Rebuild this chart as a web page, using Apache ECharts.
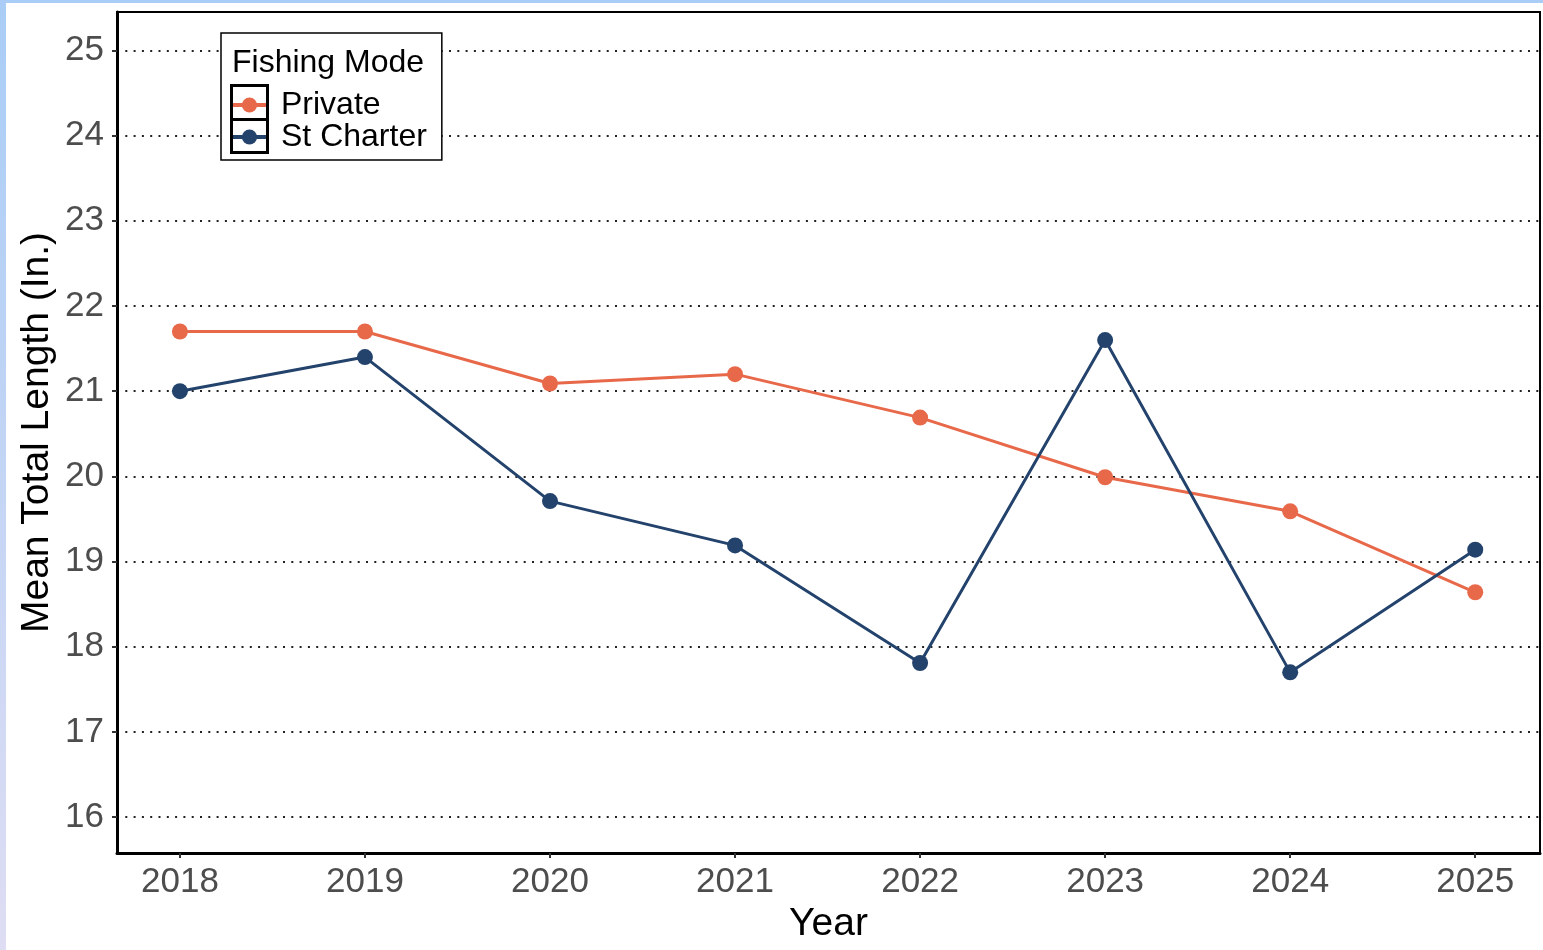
<!DOCTYPE html>
<html>
<head>
<meta charset="utf-8">
<script src="https://cdn.jsdelivr.net/npm/echarts@6/dist/echarts.min.js"></script>
<style>
html,body{margin:0;padding:0;background:#fff;}
#chart{width:1543px;height:950px;}
</style>
</head>
<body>
<div id="chart"></div>
<script>
const years = [2018, 2019, 2020, 2021, 2022, 2023, 2024, 2025];
const privateVals = [21.7, 21.7, 21.09, 21.2, 20.69, 19.99, 19.59, 18.64];
const charterVals = [21.0, 21.4, 19.71, 19.19, 17.81, 21.6, 17.7, 19.14];
const yTicks = [16, 17, 18, 19, 20, 21, 22, 23, 24, 25];
const seriesNames = ['Private', 'St Charter'];
const legendTitle = 'Fishing Mode';
const xTitle = 'Year';
const yTitle = 'Mean Total Length (In.)';

const FONT = 'Liberation Sans, Arial, sans-serif';
const colors = ['#E8694A', '#23436D'];

const chart = echarts.init(document.getElementById('chart'), null, {renderer: 'canvas'});
const option = {
  animation: false,
  backgroundColor: '#fff',
  color: colors,
  title: {
    text: legendTitle,
    left: 232, top: 47, padding: 0,
    textStyle: {fontFamily: FONT, fontSize: 32, fontWeight: 'normal', color: '#000'}
  },
  legend: {
    data: seriesNames,
    orient: 'vertical',
    left: 221, top: 33,
    padding: [56, 15, 7, 9],
    itemGap: 0,
    itemWidth: 35,
    itemHeight: 19,
    borderColor: '#000',
    borderWidth: 1.5,
    backgroundColor: '#fff',
    lineStyle: {width: 4},
    textStyle: {fontFamily: FONT, fontSize: 32, color: '#000', lineHeight: 32, padding: [0, 0, 0, 9]}
  },
  grid: {
    left: 117, top: 12, right: 3, bottom: 97,
    show: true, borderColor: '#000', borderWidth: 2, backgroundColor: '#fff'
  },
  xAxis: {
    type: 'value',
    min: 2017.66, max: 2025.35,
    name: xTitle,
    nameLocation: 'middle',
    nameGap: 49,
    nameTextStyle: {fontFamily: FONT, fontSize: 39, color: '#000'},
    axisLine: {lineStyle: {color: '#000', width: 3}},
    axisTick: {show: true, length: 5, lineStyle: {color: '#333', width: 2}, customValues: years},
    axisLabel: {fontFamily: FONT, fontSize: 35, color: '#4D4D4D', margin: 12, customValues: years,
      formatter: v => String(v)},
    splitLine: {show: false}
  },
  yAxis: {
    type: 'value',
    min: 15.58, max: 25.45,
    name: yTitle,
    nameLocation: 'middle',
    nameGap: 60,
    nameMoveOverlap: false,
    nameTextStyle: {fontFamily: FONT, fontSize: 39, color: '#000'},
    axisLine: {show: true, lineStyle: {color: '#000', width: 3}},
    axisTick: {show: true, length: 5, lineStyle: {color: '#333', width: 2}, customValues: yTicks},
    axisLabel: {fontFamily: FONT, fontSize: 35, color: '#4D4D4D', margin: 13, customValues: yTicks},
    splitLine: {show: true, lineStyle: {color: '#222', width: 2, type: [2, 6.3]}}
  },
  graphic: [
    {type: 'rect', left: 0, top: 0, z: 1000, shape: {width: 1543, height: 3}, style: {fill: '#A9CDF6'}},
    {type: 'rect', left: 0, top: 0, z: 1000, shape: {width: 6, height: 950},
      style: {fill: new echarts.graphic.LinearGradient(0, 0, 0, 1, [
        {offset: 0, color: '#A9CDF6'}, {offset: 1, color: '#DEDDF3'}])}},
    {type: 'rect', left: 229, top: 83, z: 1000, shape: {width: 36, height: 34},
      style: {fill: 'none', stroke: '#000', lineWidth: 3}},
    {type: 'rect', left: 229, top: 117, z: 1000, shape: {width: 36, height: 33},
      style: {fill: 'none', stroke: '#000', lineWidth: 3}}
  ],
  series: [
    {
      name: seriesNames[0], type: 'line',
      data: years.map((y, i) => [y, privateVals[i]]),
      symbol: 'circle', symbolSize: 16,
      lineStyle: {width: 3, color: colors[0]},
      itemStyle: {color: colors[0]},
      z: 3
    },
    {
      name: seriesNames[1], type: 'line',
      data: years.map((y, i) => [y, charterVals[i]]),
      symbol: 'circle', symbolSize: 16,
      lineStyle: {width: 3, color: colors[1]},
      itemStyle: {color: colors[1]},
      z: 4
    }
  ]
};
chart.setOption(option);
</script>
</body>
</html>
